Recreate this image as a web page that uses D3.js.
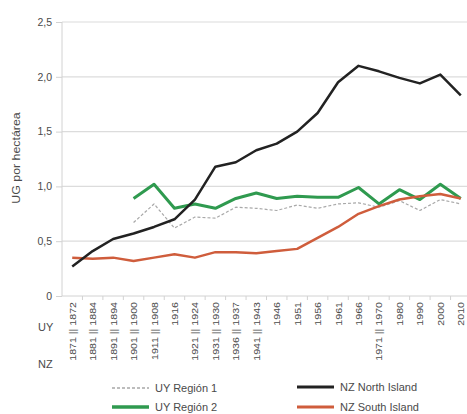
<!DOCTYPE html>
<html>
<head>
<meta charset="utf-8">
<script src="https://cdn.jsdelivr.net/npm/d3@7"></script>
<style>
body { margin: 0; background: #fff; }
text { font-family: "Liberation Sans", Arial, sans-serif; fill: #4a4a4a; }
</style>
</head>
<body>
<div id="chart"></div>
<script>
// categories: NZ year | UY year (single when shared)
var nzYears = ["1871","1881","1891","1901","1911","","1921","1931","1936","1941","","","","","","1971","","","",""];
var uyYears = ["1872","1884","1894","1900","1908","1916","1924","1930","1937","1943","1946","1951","1956","1961","1966","1970","1980","1990","2000","2010"];

var nzNorth = [0.27,0.41,0.52,0.57,0.63,0.70,0.88,1.18,1.22,1.33,1.39,1.50,1.67,1.95,2.10,2.05,1.99,1.94,2.02,1.83];
var nzSouth = [0.35,0.34,0.35,0.32,0.35,0.38,0.35,0.40,0.40,0.39,0.41,0.43,0.53,0.63,0.75,0.82,0.88,0.91,0.93,0.89];
var uyRegion1 = [null,null,null,0.67,0.84,0.62,0.72,0.71,0.81,0.80,0.78,0.83,0.80,0.84,0.85,0.81,0.87,0.78,0.88,0.84];
var uyRegion2 = [null,null,null,0.89,1.02,0.80,0.84,0.80,0.89,0.94,0.89,0.91,0.90,0.90,0.99,0.84,0.97,0.88,1.02,0.89];

var yTicks = [0,0.5,1.0,1.5,2.0,2.5];

var width = 467, height = 414;
var svg = d3.select("#chart").append("svg")
  .attr("width", width)
  .attr("height", height);

var x = d3.scaleBand().domain(d3.range(uyYears.length)).range([62, 471]).padding(0);
var y = d3.scaleLinear().domain([0, 2.5]).range([296, 22]);
var fmt = function(d){ return d === 0 ? "0" : d3.format(".1f")(d).replace(".", ","); };

// gridlines
svg.append("g").selectAll("line")
  .data(yTicks.filter(function(d){ return d > 0; }))
  .enter().append("line")
  .attr("x1", 62).attr("x2", 467)
  .attr("y1", function(d){ return y(d); })
  .attr("y2", function(d){ return y(d); })
  .attr("stroke", "#dcdcdc").attr("stroke-width", 1.2);

// y axis
var yAxis = svg.append("g")
  .attr("transform", "translate(62,0)")
  .call(d3.axisLeft(y).tickValues(yTicks).tickFormat(fmt).tickSize(6).tickPadding(4));
yAxis.select(".domain").attr("stroke", "#d2d2d2").attr("d", "M0,22V296");
yAxis.selectAll(".tick line").attr("stroke", "#d2d2d2");
yAxis.selectAll("text").style("font-size", "10.5px").attr("fill", "#555")
  .style("font-family", "'Liberation Sans', Arial, sans-serif");

// x axis: ticks at band boundaries
var xAxis = svg.append("g").attr("transform", "translate(0,296)");
xAxis.append("line").attr("x1", 62).attr("x2", 467).attr("stroke", "#d2d2d2");
xAxis.selectAll("line.tk")
  .data(d3.range(1, uyYears.length))
  .enter().append("line").attr("class", "tk")
  .attr("x1", function(d){ return x(d); })
  .attr("x2", function(d){ return x(d); })
  .attr("y1", 0).attr("y2", 4)
  .attr("stroke", "#d2d2d2");

// x labels rotated
svg.append("g").selectAll("text.xl")
  .data(uyYears)
  .enter().append("text").attr("class", "xl")
  .attr("transform", function(d, i){
    return "translate(" + (x(i) + x.bandwidth()/2 + 3.5) + ",302) rotate(-90) scale(1.12,1)";
  })
  .attr("text-anchor", "end")
  .attr("fill", "#555")
  .style("font-size", "9.5px")
  .text(function(d, i){ return nzYears[i] ? nzYears[i] + " || " + d : d; });

// row labels
svg.append("text").attr("x", 38).attr("y", 331).style("font-size", "11px").text("UY");
svg.append("text").attr("x", 38).attr("y", 368).style("font-size", "11px").text("NZ");

// y label
svg.append("text")
  .attr("transform", "translate(20,158) rotate(-90) scale(1.18,1)")
  .attr("text-anchor", "middle")
  .style("font-size", "10.5px")
  .text("UG por hectárea");

var line = d3.line()
  .defined(function(d){ return d != null; })
  .x(function(d, i){ return x(i) + x.bandwidth()/2; })
  .y(function(d){ return y(d); });

var series = [
  {name: "UY Región 1", values: uyRegion1, color: "#a8a8a8", w: 1.2, dash: "3,2"},
  {name: "UY Región 2", values: uyRegion2, color: "#2f9a4f", w: 3, dash: null},
  {name: "NZ South Island", values: nzSouth, color: "#cf5d3c", w: 2.5, dash: null},
  {name: "NZ North Island", values: nzNorth, color: "#222222", w: 2.5, dash: null}
];

svg.append("g").selectAll("path")
  .data(series)
  .enter().append("path")
  .attr("d", function(s){ return line(s.values); })
  .attr("fill", "none")
  .attr("stroke", function(s){ return s.color; })
  .attr("stroke-width", function(s){ return s.w; })
  .attr("stroke-dasharray", function(s){ return s.dash; })
  .attr("stroke-linejoin", "round");

// legend
var legendItems = [
  {s: series[0], x: 112, y: 388},
  {s: series[1], x: 112, y: 407},
  {s: series[3], x: 297, y: 387},
  {s: series[2], x: 297, y: 407}
];
var lg = svg.append("g").selectAll("g")
  .data(legendItems)
  .enter().append("g")
  .attr("transform", function(d){ return "translate(" + d.x + "," + d.y + ")"; });
lg.append("line")
  .attr("x1", 0).attr("x2", 37)
  .attr("stroke", function(d){ return d.s.color; })
  .attr("stroke-width", function(d){ return d.s.w + 0.5; })
  .attr("stroke-dasharray", function(d){ return d.s.dash; });
lg.append("text")
  .attr("x", 43)
  .attr("dy", "0.35em")
  .style("font-size", "11px")
  .text(function(d){ return d.s.name; });
</script>
</body>
</html>
